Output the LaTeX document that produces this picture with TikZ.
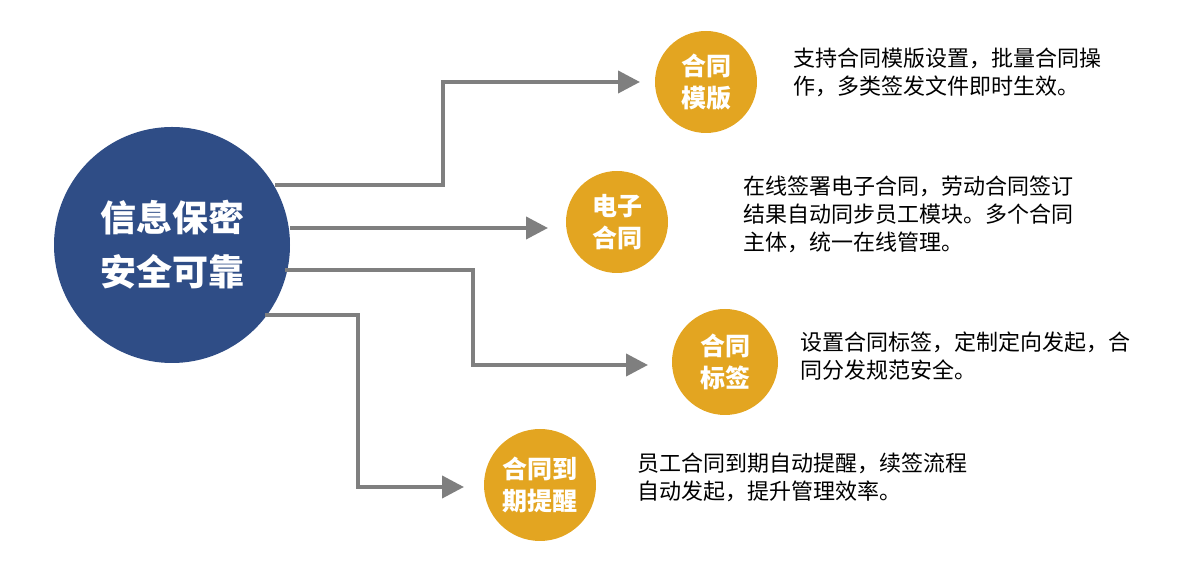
\documentclass[tikz,border=0pt]{standalone}
\usepackage{fontspec}
\setmainfont{Noto Sans CJK SC}
\usetikzlibrary{arrows.meta}
\definecolor{navy}{HTML}{2F4D86}
\definecolor{gold}{HTML}{E3A521}
\definecolor{arr}{HTML}{7F7F7F}
\begin{document}
\begin{tikzpicture}[x=0.5pt,y=-0.5pt,
  big/.style={circle,fill=navy,minimum size=118pt,inner sep=0,text=white,font=\fontsize{18}{27}\selectfont\bfseries,align=center},
  small/.style={circle,fill=gold,minimum size=51pt,inner sep=0,text=white,font=\fontsize{12.5}{16}\selectfont\bfseries,align=center},
  desc/.style={anchor=north west,align=left,inner sep=0,font=\fontsize{11}{14}\selectfont},
  conn/.style={draw=arr,line width=2pt,-{Triangle[length=11pt,width=11pt]}}]
\useasboundingbox (0,0) rectangle (1200,565);
\node[big] (main) at (172,245) {信息保密\\安全可靠};
\node[small] (a) at (706,82) {合同\\模版};
\node[small] (b) at (617,222) {电子\\合同};
\node[small,minimum size=53pt] (c) at (725,362) {合同\\标签};
\node[small,minimum size=56pt] (d) at (540,485) {合同到\\期提醒};
\coordinate (s1) at (275,185);
\coordinate (s2) at (290,228);
\coordinate (s3) at (285,270);
\coordinate (s4) at (265,315);
\coordinate (e1) at (640,82);
\coordinate (e2) at (548,228);
\coordinate (e3) at (648,365);
\coordinate (e4) at (464,487);
\draw[conn] (s1) -- (443,185) -- (443,82) -- (e1);
\draw[conn] (s2) -- (e2);
\draw[conn] (s3) -- (473,270) -- (473,365) -- (e3);
\draw[conn] (s4) -- (358,315) -- (358,487) -- (e4);
\node[desc] (ta) at (793,48) {支持合同模版设置，批量合同操\\作，多类签发文件即时生效。};
\node[desc] (tb) at (743,176) {在线签署电子合同，劳动合同签订\\结果自动同步员工模块。多个合同\\主体，统一在线管理。};
\node[desc] (tc) at (800,331) {设置合同标签，定制定向发起，合\\同分发规范安全。};
\node[desc] (td) at (637,453) {员工合同到期自动提醒，续签流程\\自动发起，提升管理效率。};
\end{tikzpicture}
\end{document}
